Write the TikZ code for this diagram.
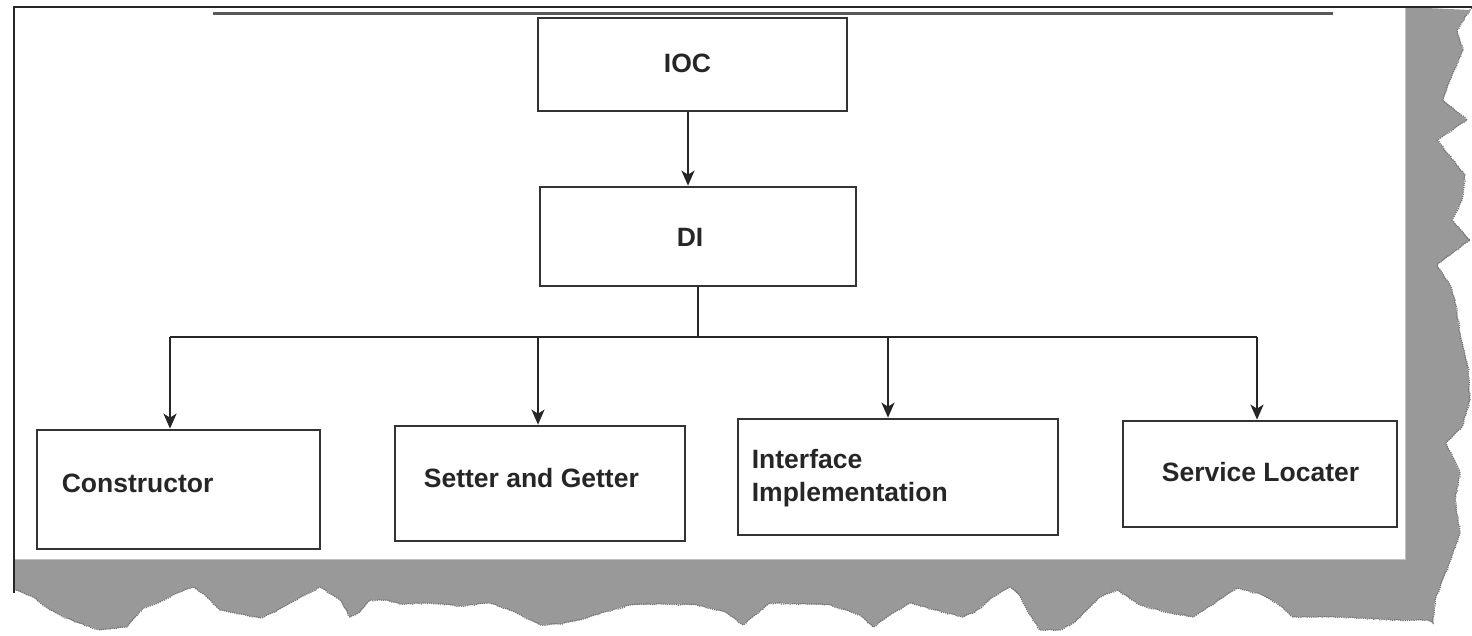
\documentclass[tikz,border=0pt]{standalone}
\usepackage{fontspec}
\setmainfont{Liberation Sans}
\usetikzlibrary{arrows.meta,decorations.pathmorphing}
\begin{document}
\begin{tikzpicture}[x=1pt,y=-1pt,
  box/.style={draw=black!80,line width=2.7pt,fill=white,inner sep=0pt},
  lbl/.style={font=\bfseries\fontsize{26.5}{33}\selectfont,text=black!85,inner sep=0pt,align=left},
  conn/.style={draw=black!85,line width=2pt},
  arr/.style={conn,-{Stealth[length=15pt,width=13pt,inset=4pt]}},
  torn/.style={draw=black!55,line width=1.2pt,densely dotted,
    decorate,decoration={random steps,segment length=3pt,amplitude=0.8pt}}]
\useasboundingbox (0,0) rectangle (1472,636);
\fill[white] (0,0) rectangle (1472,636);

% page shadow with torn right and bottom edges
\def\rightedge{(1470,10) -- (1457,30) -- (1463,50) -- (1450,80) -- (1443,100) -- (1467,120) -- (1437,140) -- (1453,160) -- (1465,175) -- (1462,200) -- (1452,220) -- (1470,240) -- (1437,265) -- (1450,285) -- (1455,300) -- (1460,333) -- (1468,367) -- (1470,400) -- (1462,427) -- (1446,443) -- (1460,473) -- (1455,500) -- (1460,533) -- (1448,567) -- (1435,600) -- (1433,623)}
\def\bottomedge{(1427,620) -- (1395,620) -- (1340,617) -- (1293,617) -- (1277,603) -- (1260,594) -- (1237,588) -- (1215,603) -- (1193,617) -- (1170,613) -- (1140,605) -- (1117,590) -- (1100,597) -- (1090,607) -- (1075,622) -- (1060,630) -- (1040,630) -- (1030,615) -- (1020,596) -- (1010,587) -- (993,597) -- (975,612) -- (963,617) -- (935,610) -- (910,603) -- (890,615) -- (873,627) -- (860,615) -- (830,605) -- (800,604) -- (770,603) -- (755,615) -- (743,625) -- (725,612) -- (697,605) -- (665,604) -- (630,605) -- (605,612) -- (580,620) -- (560,624) -- (540,625) -- (515,612) -- (490,603) -- (460,606) -- (430,603) -- (400,604) -- (385,600) -- (370,600) -- (360,612) -- (350,617) -- (340,600) -- (320,587) -- (305,595) -- (290,603) -- (275,612) -- (260,618) -- (240,614) -- (220,610) -- (205,595) -- (193,587) -- (175,594) -- (160,602) -- (143,608) -- (127,627) -- (100,630) -- (75,622) -- (50,610) -- (33,597) -- (15,590)}
\fill[black!40] (1405,7) -- \rightedge -- \bottomedge -- (14,559) -- (1405,559) -- cycle;
\path[torn] (1472,8) -- \rightedge -- \bottomedge;
\draw[black!25,line width=1pt] (15,559.5) -- (1405,559.5) -- (1405,8);

% frame lines
\draw[black!85,line width=2pt] (13,7) -- (1472,7);
\draw[black!85,line width=2pt] (14,7) -- (14,593);
\draw[black!65,line width=3.5pt] (213,13.5) -- (1333,13.5);

% boxes
\node[box,minimum width=309pt,minimum height=93pt] (ioc) at (692.5,64.5) {};
\node[box,minimum width=316pt,minimum height=99pt] (di) at (698,236.5) {};
\node[box,minimum width=283pt,minimum height=119pt] (con) at (178.5,489.5) {};
\node[box,minimum width=290pt,minimum height=115pt] (set) at (540,483.5) {};
\node[box,minimum width=320pt,minimum height=116pt] (int) at (898,477) {};
\node[box,minimum width=274pt,minimum height=106pt] (svc) at (1260,474) {};

% labels
\node[lbl] (iocl) at ([xshift=-5pt,yshift=1pt]ioc.center) {IOC};
\node[lbl] (dil) at ([xshift=-8pt,yshift=-1pt]di.center) {DI};
\node[lbl,anchor=west] (conl) at ([xshift=26pt,yshift=6pt]con.west) {Constructor};
\node[lbl,anchor=west] (setl) at ([xshift=30pt,yshift=5pt]set.west) {Setter and Getter};
\node[lbl,anchor=west] (intl) at ([xshift=15pt,yshift=-1pt]int.west) {Interface\\Implementation};
\node[lbl,anchor=west] (svcl) at ([xshift=40pt,yshift=2pt]svc.west) {Service Locater};

% connectors
\coordinate (bus) at ([yshift=-50pt]di.south);
\draw[arr] ([xshift=-4.5pt]ioc.south) -- ([xshift=-4.5pt]ioc.south |- di.north);
\draw[conn] (di.south) -- (bus);
\draw[conn] ([xshift=-8.5pt]con.north |- bus) -- ([xshift=-3pt]svc.north |- bus);
\draw[arr] ([xshift=-8.5pt]con.north |- bus) -- ([xshift=-8.5pt]con.north);
\draw[arr] ([xshift=-2pt]set.north |- bus) -- ([xshift=-2pt]set.north);
\draw[arr] ([xshift=-10pt]int.north |- bus) -- ([xshift=-10pt]int.north);
\draw[arr] ([xshift=-3pt]svc.north |- bus) -- ([xshift=-3pt]svc.north);
\end{tikzpicture}
\end{document}
